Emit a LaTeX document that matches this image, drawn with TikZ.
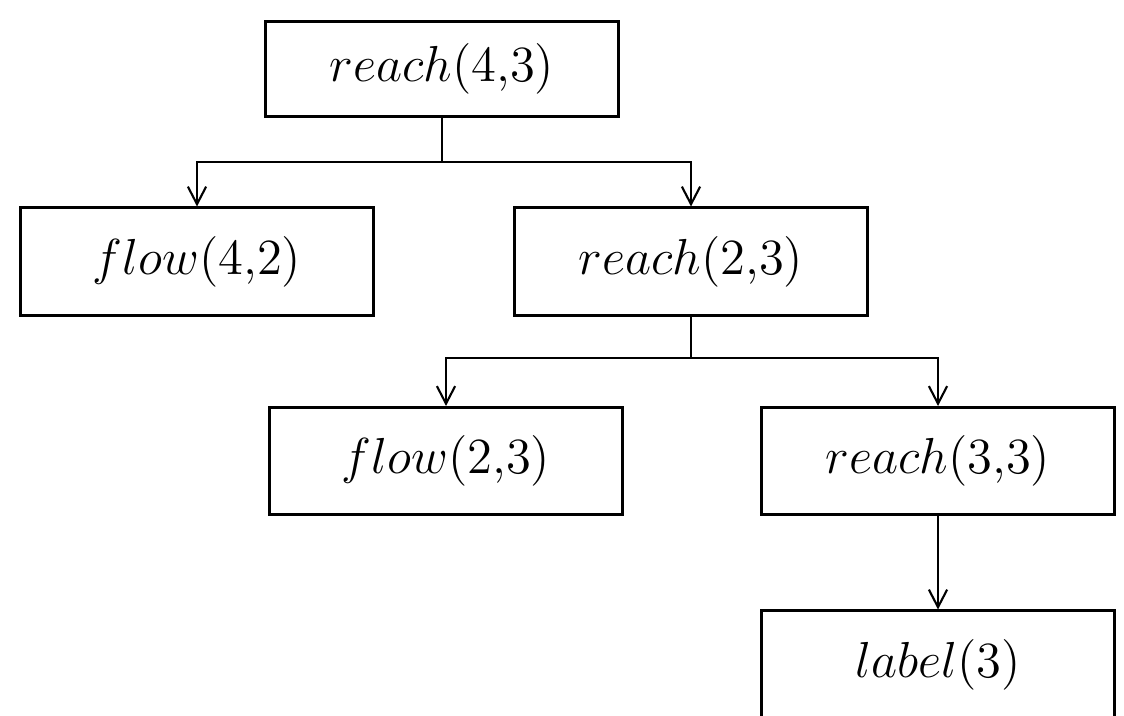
\documentclass[tikz,border=0pt]{standalone}
\usepackage{amsmath,amssymb}
\usepackage{tikz}
\usetikzlibrary{positioning,calc}
\usetikzlibrary{arrows.meta}
\tikzset{
	goal/.style={draw=black,fill=white,line width=0.85pt,minimum width=3.52cm,
		minimum height=1.07cm,inner sep=0pt,font=\fontsize{14.5}{16}\selectfont},
	link/.style={draw=black,line width=0.6pt},
}

\begin{document}
\begin{tikzpicture}[>={Straight Barb[length=5pt,width=5.2pt]},x=0.01cm,y=-0.01cm]
	\useasboundingbox (0,0) rectangle (1124,716);
	\clip (0,0) rectangle (1124,716);
	\node[goal,minimum height=0.95cm] (r43) at (442,69) {$reach(4{,}3)$};
	\node[goal] (f42) at (197,261.5) {$flow(4{,}2)$};
	\node[goal] (r23) at (691,261.5) {$reach(2{,}3)$};
	\node[goal] (f23) at (446,461) {$flow(2{,}3)$};
	\node[goal] (r33) at (938,461) {$reach(3{,}3)$};
	\node[goal] (l3) at (938,664.5) {$label(3)$};
	\coordinate (j1) at (442,162);
	\coordinate (j2) at (691,358);
	\draw[link] (r43.south) -- (j1);
	\draw[link,->] (j1) -| (f42.north);
	\draw[link,->] (j1) -| (r23.north);
	\draw[link] (r23.south) -- (j2);
	\draw[link,->] (j2) -| (f23.north);
	\draw[link,->] (j2) -| (r33.north);
	\draw[link,->] (r33.south) -- (l3.north);
\end{tikzpicture}
\end{document}
